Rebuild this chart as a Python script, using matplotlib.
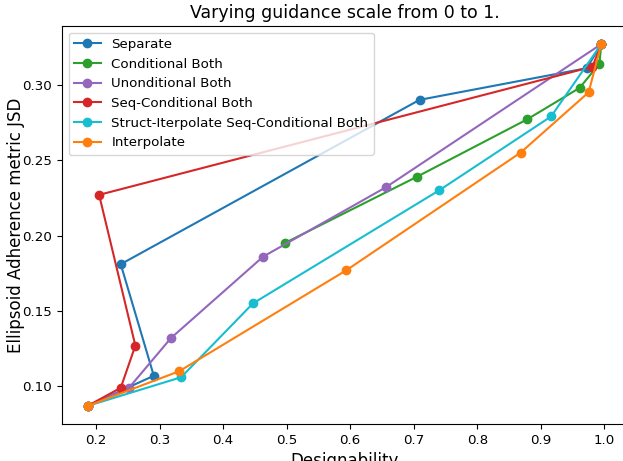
import numpy as np
import matplotlib
matplotlib.use('Agg')
import matplotlib.pyplot as plt

# Designability (x) and Ellipsoid Adherence metric JSD (y), guidance 0 -> 1
sep_x = [0.187, 0.291, 0.239, 0.709, 0.972, 0.995]
sep_y = [0.087, 0.107, 0.181, 0.290, 0.311, 0.327]

cond_x = [0.497, 0.705, 0.878, 0.961, 0.992, 0.995]
cond_y = [0.195, 0.239, 0.277, 0.298, 0.314, 0.327]

uncond_x = [0.187, 0.252, 0.318, 0.463, 0.656, 0.995]
uncond_y = [0.087, 0.099, 0.132, 0.186, 0.232, 0.327]

seq_x = [0.187, 0.239, 0.262, 0.205, 0.981, 0.995]
seq_y = [0.087, 0.099, 0.127, 0.227, 0.312, 0.327]

struct_x = [0.187, 0.334, 0.447, 0.740, 0.916, 0.995]
struct_y = [0.087, 0.106, 0.155, 0.230, 0.279, 0.327]

interp_x = [0.187, 0.331, 0.594, 0.868, 0.975, 0.995]
interp_y = [0.087, 0.110, 0.177, 0.255, 0.295, 0.327]

fig = plt.figure(figsize=(6.23, 4.61), dpi=100)
ax = fig.add_axes([62 / 623, 37 / 461, 565 / 623, 398 / 461])

ax.plot(sep_x, sep_y, marker='o', color='tab:blue', label='Separate')
ax.plot(cond_x, cond_y, marker='o', color='tab:green', label='Conditional Both')
ax.plot(uncond_x, uncond_y, marker='o', color='tab:purple', label='Unonditional Both')
ax.plot(seq_x, seq_y, marker='o', color='tab:red', label='Seq-Conditional Both')
ax.plot(struct_x, struct_y, marker='o', color='tab:cyan', label='Struct-Iterpolate Seq-Conditional Both')
ax.plot(interp_x, interp_y, marker='o', color='tab:orange', label='Interpolate')

ax.set_title('Varying guidance scale from 0 to 1.', fontsize=12.5)
ax.set_xlabel('Designability', fontsize=12)
ax.set_ylabel('Ellipsoid Adherence metric JSD', fontsize=12)
ax.yaxis.set_label_coords(-0.066, 0.5)
ax.tick_params(labelsize=9.6)
ax.legend(loc='upper left', fontsize=9.6)

fig.savefig('out.png', dpi=100)
